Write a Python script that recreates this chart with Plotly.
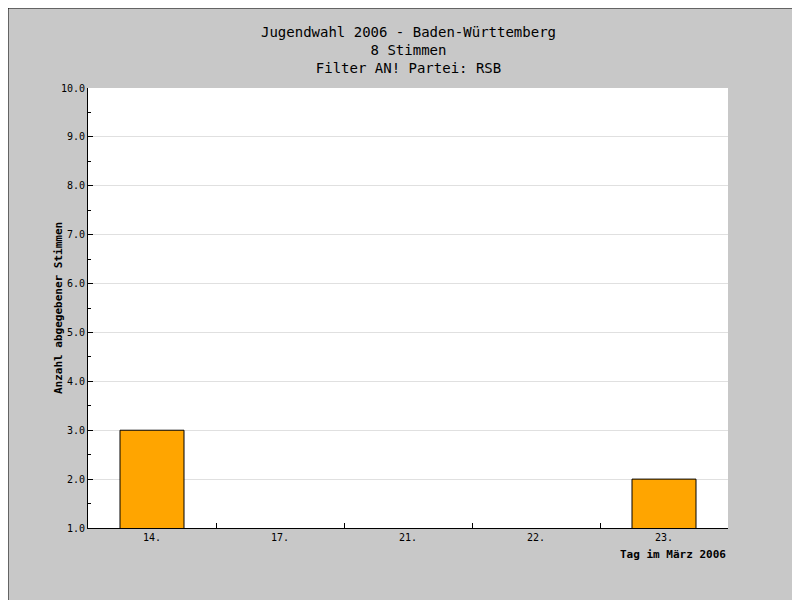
import plotly.graph_objects as go

days = ["14.", "17.", "21.", "22.", "23."]
votes = [3, 0, 0, 0, 2]
y_ticks = [1, 2, 3, 4, 5, 6, 7, 8, 9, 10]
title_lines = ["Jugendwahl 2006 - Baden-Württemberg", "8 Stimmen", "Filter AN! Partei: RSB"]

W, H = 800, 600
L, R, T, B = 80, 80, 80, 80


def px(x):
    return (x - L) / (W - L - R)


def py(y):
    return (H - B - y) / (H - T - B)


mono = "DejaVu Sans Mono"

fig = go.Figure(go.Bar(
    x=days, y=votes, width=0.5,
    marker=dict(color="#ffa500", line=dict(color="black", width=1)),
))

shapes = [
    # shadow, frame, plot area
    dict(type="rect", xref="paper", yref="paper", x0=px(6), x1=px(800), y0=py(600), y1=py(6),
         fillcolor="#444444", line=dict(width=0), layer="below"),
    dict(type="rect", xref="paper", yref="paper", x0=px(0), x1=px(794), y0=py(594), y1=py(0),
         fillcolor="#c8c8c8", line=dict(color="black", width=1), layer="below"),
    dict(type="rect", xref="paper", yref="paper", x0=0, x1=1, y0=0, y1=1,
         fillcolor="white", line=dict(width=0), layer="below"),
]

annotations = [
    dict(text="<br>".join(title_lines), xref="paper", yref="paper", x=0.5, y=py(42),
         xanchor="center", yanchor="middle", showarrow=False,
         font=dict(family=mono, size=14, color="black")),
    dict(text="Tag im März 2006", xref="paper", yref="paper", x=1, y=py(546),
         xanchor="right", yanchor="middle", showarrow=False,
         font=dict(family=mono, size=11, color="black", weight="bold")),
    dict(text="Anzahl abgegebener Stimmen", xref="paper", yref="paper", x=px(50), y=py(300),
         textangle=-90, xanchor="center", yanchor="middle", showarrow=False,
         font=dict(family=mono, size=11, color="black", weight="bold")),
]

fig.update_layout(
    width=W, height=H,
    margin=dict(l=L, r=R, t=T, b=B),
    paper_bgcolor="white", plot_bgcolor="rgba(0,0,0,0)",
    showlegend=False,
    font=dict(family=mono, size=10, color="black"),
    shapes=shapes,
    annotations=annotations,
)
fig.update_xaxes(type="category", categoryarray=days, tickson="boundaries", ticks="inside",
                 ticklen=5, tickcolor="black", showline=True, linecolor="black",
                 showgrid=False, tickfont=dict(family=mono, size=10))
fig.update_yaxes(range=[1, 10], tickvals=y_ticks, ticktext=[f"{v}.0" for v in y_ticks],
                 ticks="inside", ticklen=5, tickcolor="black", showline=True, linecolor="black",
                 gridcolor="#e0e0e0", zeroline=False,
                 minor=dict(dtick=0.5, ticks="inside", ticklen=3, tickcolor="black", showgrid=False),
                 tickfont=dict(family=mono, size=10))

fig.write_html("out.html")
